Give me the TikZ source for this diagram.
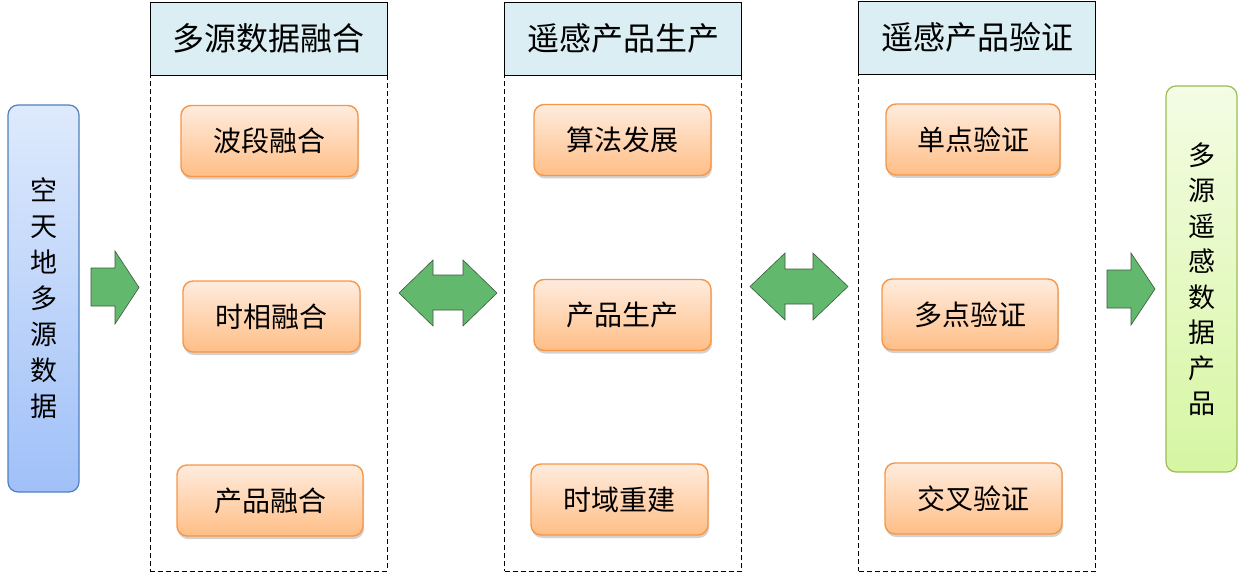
\documentclass[tikz,border=0pt]{standalone}
\usepackage{fontspec}
\setmainfont{Noto Sans CJK SC}
\usetikzlibrary{shadows}
\definecolor{hdrfill}{RGB}{218,238,243}
\definecolor{orbord}{RGB}{247,150,70}
\definecolor{ortop}{RGB}{255,236,222}
\definecolor{orbot}{RGB}{255,190,134}
\definecolor{bluebord}{RGB}{79,129,189}
\definecolor{bluetop}{RGB}{222,234,252}
\definecolor{bluebot}{RGB}{160,192,248}
\definecolor{grbord}{RGB}{155,187,89}
\definecolor{grtop}{RGB}{244,252,228}
\definecolor{grbot}{RGB}{214,246,162}
\definecolor{arrfill}{RGB}{98,184,108}
\definecolor{arrbord}{RGB}{60,90,60}
\begin{document}
\begin{tikzpicture}[x=1pt,y=-1pt,
  hdrbox/.style={draw=black, fill=hdrfill, line width=0.8pt, minimum width=237pt, minimum height=73pt, inner sep=0pt, font=\fontsize{32}{36}\selectfont},
  dashbox/.style={draw=black, dash pattern=on 5pt off 3pt, line width=0.7pt, minimum width=237pt, inner sep=0pt},
  orbox/.style={draw=orbord, line width=1.4pt, rounded corners=10pt, top color=ortop, bottom color=orbot, minimum width=177pt, minimum height=71pt, inner sep=0pt, font=\fontsize{28}{32}\selectfont, drop shadow={shadow xshift=1pt, shadow yshift=-3pt, fill=black!35, opacity=0.5}},
  sidebox/.style={line width=1.2pt, rounded corners=10pt, minimum width=71pt, inner sep=0pt, align=center, font=\fontsize{27}{36}\selectfont},
  garrow/.style={draw=arrbord, fill=arrfill, line width=0.6pt, line join=miter}
]
\useasboundingbox (0,0) rectangle (1245,572);

% side boxes
\node[sidebox, draw=bluebord, top color=bluetop, bottom color=bluebot, minimum height=387pt] (src) at (43.5,298.5) {空\\天\\地\\多\\源\\数\\据};
\node[sidebox, draw=grbord, top color=grtop, bottom color=grbot, minimum height=386pt, font=\fontsize{27}{35.5}\selectfont] (prod) at (1201.5,279) {多\\源\\遥\\感\\数\\据\\产\\品};

% columns
\node[dashbox, minimum height=496pt] (c1) at (268.5,323) {};
\node[hdrbox] (h1) at (268.5,38.5) {多源数据融合};
\node[dashbox, minimum height=496pt] (c2) at (623,323) {};
\node[hdrbox] (h2) at (623,38.5) {遥感产品生产};
\node[dashbox, minimum height=497pt] (c3) at (977,322.5) {};
\node[hdrbox] (h3) at (977,37.5) {遥感产品验证};

% orange boxes
\node[orbox] (a1) at (269.5,141) {波段融合};
\node[orbox] (a2) at (271.5,316.5) {时相融合};
\node[orbox, minimum width=186pt] (a3) at (270,500.5) {产品融合};
\node[orbox] (b1) at (622.5,140) {算法发展};
\node[orbox] (b2) at (622.5,315) {产品生产};
\node[orbox] (b3) at (619.5,499.5) {时域重建};
\node[orbox, minimum width=174pt] (d1) at (973,139.5) {单点验证};
\node[orbox, minimum width=176pt] (d2) at (970,314.5) {多点验证};
\node[orbox] (d3) at (973.5,498.5) {交叉验证};

% block arrows
\draw[garrow] (91,268) -- (115,268) -- (115,251) -- (139,287.5) -- (115,324) -- (115,306) -- (91,306) -- cycle;
\draw[garrow] (399,293) -- (433,260) -- (433,275) -- (463,275) -- (463,260) -- (497,293) -- (463,326) -- (463,310) -- (433,310) -- (433,326) -- cycle;
\draw[garrow] (750,286.5) -- (785,253) -- (785,269) -- (813,269) -- (813,253) -- (848,286.5) -- (813,320) -- (813,304) -- (785,304) -- (785,320) -- cycle;
\draw[garrow] (1107,270) -- (1131,270) -- (1131,253) -- (1155,289) -- (1131,325) -- (1131,308) -- (1107,308) -- cycle;
\end{tikzpicture}
\end{document}
